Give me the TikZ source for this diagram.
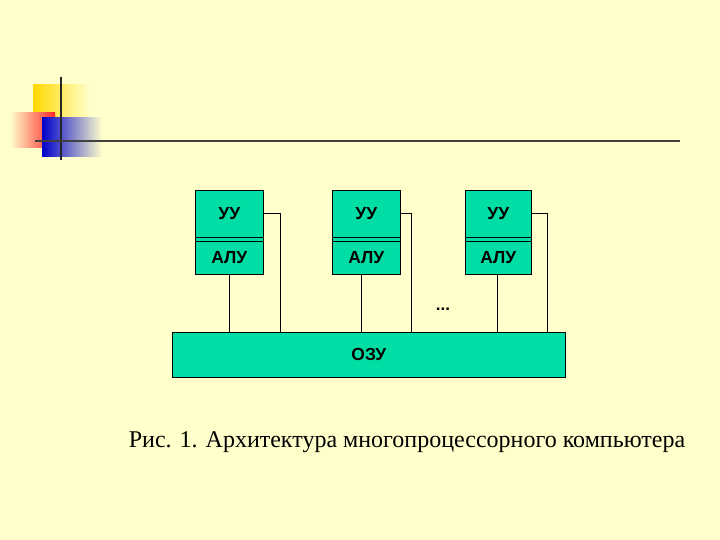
\documentclass[tikz,border=0pt]{standalone}
\usepackage{fontspec}
\setmainfont{Liberation Serif}
\newfontfamily\lab{Liberation Sans}
\begin{document}
\begin{tikzpicture}[x=1pt,y=-1pt,
  box/.style={draw=black,fill=boxc,line width=0.6pt},
  wire/.style={draw=black,line width=0.6pt},
  lbl/.style={font=\lab\bfseries\fontsize{17.5}{20}\selectfont}]
\definecolor{bg}{RGB}{255,255,204}
\definecolor{boxc}{RGB}{0,222,165}
\fill[bg] (0,0) rectangle (720,540);
\useasboundingbox (0,0) rectangle (720,540);
% decoration
\shade[left color=yellow!70!orange, right color=bg] (33,85) rectangle (90,130);
\shade[left color=bg, right color=red!85] (10,113) rectangle (55,148);
\shade[left color=blue!80!black, right color=bg] (42,118) rectangle (102,157);
\draw[line width=2.5pt,black!85] (61,77) -- (61,160);
\draw[line width=2.5pt,black!75] (35,141) -- (680,141);
% processors
\foreach \n/\x/\w in {a/195/68,b/332/68,c/465/66}{
  \fill[boxc] (\x,236) rectangle ++(\w,6);
  \node[box,minimum width=\w,minimum height=47,inner sep=0,anchor=north west,lbl] (\n u) at (\x,190) {УУ};
  \node[box,minimum width=\w,minimum height=33,inner sep=0,anchor=north west,lbl] (\n l) at (\x,241) {АЛУ};
  \draw[wire] (\n u.south west) -- (\n l.north west) (\n u.south east) -- (\n l.north east);
}
\node[box,minimum width=393,minimum height=45,inner sep=0,anchor=north west,lbl] (ram) at (172,332) {ОЗУ};
\node[font=\lab\bfseries\fontsize{17}{20}\selectfont] (dots) at (443,309) {...};
\foreach \n/\lx/\rx in {a/229/280,b/361/411,c/497/547}{
  \draw[wire] (\n l.south -| \lx,0) -- (ram.north -| \lx,0);
  \coordinate (\n r) at (\rx,213);
  \draw[wire] (\n u.east |- \n r) -- (\n r) -- (ram.north -| \n r);
}
\node[font=\fontsize{24}{28}\selectfont] (cap) at (407,442) {Рис. 1. Архитектура многопроцессорного компьютера};
\end{tikzpicture}
\end{document}
